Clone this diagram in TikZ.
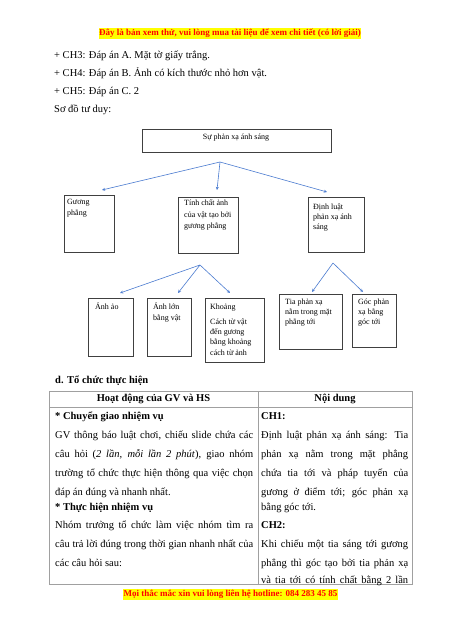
\documentclass[tikz,border=0pt]{standalone}
\usepackage{fontspec}
\setmainfont{Liberation Serif}
\usetikzlibrary{arrows.meta}
\definecolor{arrowblue}{HTML}{4A7BD0}
\definecolor{boxgray}{HTML}{404040}
\definecolor{tablegray}{HTML}{A0A0A0}
\definecolor{hlred}{HTML}{FF0000}
\definecolor{hlyellow}{HTML}{FFFF00}
\newcommand{\jline}[2]{\makebox[#1pt][s]{#2}}
\tikzset{
  body/.style={anchor=base west, inner sep=0pt, font=\fontsize{10.5}{12}\selectfont},
  bodyb/.style={body, font=\fontsize{10.5}{12}\selectfont\bfseries},
  notice/.style={fill=hlyellow, text=hlred, inner xsep=0.6pt, inner ysep=0.8pt, font=\fontsize{9}{10}\selectfont\bfseries},
  dbox/.style={draw=boxgray, line width=0.8pt, anchor=north west, inner sep=0pt},
  dtxt/.style={anchor=base west, inner sep=0pt, font=\fontsize{8}{9}\selectfont},
  conn/.style={draw=arrowblue, line width=0.6pt, -{Stealth[length=3.2pt,width=3pt]}},
  tline/.style={draw=tablegray, line width=0.9pt}
}
\begin{document}
\begin{tikzpicture}[x=1pt,y=-1pt]
\useasboundingbox (0,0) rectangle (450,637);
\fill[white] (0,0) rectangle (450,637);

% header notice
\node[notice] (hdr) at (230,33.5) {Đây là bản xem thử, vui lòng mua tài liệu để xem chi tiết (có lời giải)};

% lines above the diagram
\node[body] (l1) at (54,58.5) {+ CH3: Đáp án A. Mặt tờ giấy trắng.};
\node[body] (l2) at (54,76) {+ CH4: Đáp án B. Ảnh có kích thước nhỏ hơn vật.};
\node[body] (l3) at (54,94.5) {+ CH5: Đáp án C. 2};
\node[body] (l4) at (54,112.5) {Sơ đồ tư duy:};

% ---------- diagram ----------
\node[dbox, minimum width=189pt, minimum height=23pt] (root) at (142,129) {};
\node[dtxt, anchor=base] (roott) at (236,139.5) {Sự phản xạ ánh sáng};

\node[dbox, minimum width=50pt, minimum height=57pt] (gbox) at (64,195) {};
\node[dtxt] (g1) at (67,204.5) {Gương};
\node[dtxt] (g2) at (67,215.5) {phẳng};

\node[dbox, minimum width=60pt, minimum height=56pt] (tbox) at (178,197) {};
\node[dtxt] (t1) at (184,205.5) {Tính chất ảnh};
\node[dtxt] (t2) at (184,217) {của vật tạo bởi};
\node[dtxt] (t3) at (184,228.5) {gương phẳng};

\node[dbox, minimum width=56pt, minimum height=55pt] (dbox) at (308,197) {};
\node[dtxt] (d1) at (313,209.5) {Định luật};
\node[dtxt] (d2) at (313,219.5) {phản xạ ánh};
\node[dtxt] (d3) at (313,229.5) {sáng};

\node[dbox, minimum width=45pt, minimum height=58pt] (abox) at (88,298) {};
\node[dtxt] (a1) at (95,309.5) {Ảnh ảo};

\node[dbox, minimum width=44pt, minimum height=58pt] (bbox) at (147,298) {};
\node[dtxt] (b1) at (153,309.5) {Ảnh lớn};
\node[dtxt] (b2) at (153,320.5) {bằng vật};

\node[dbox, minimum width=59pt, minimum height=64pt] (kbox) at (205,298) {};
\node[dtxt] (k1) at (210,309.5) {Khoảng};
\node[dtxt] (k2) at (210,324.5) {Cách từ vật};
\node[dtxt] (k3) at (210,334.5) {đến gương};
\node[dtxt] (k4) at (210,344.5) {bằng khoảng};
\node[dtxt] (k5) at (210,355.5) {cách từ ảnh};

\node[dbox, minimum width=63pt, minimum height=55pt] (xbox) at (279,294) {};
\node[dtxt] (x1) at (285,304.5) {Tia phản xạ};
\node[dtxt] (x2) at (285,314.5) {nằm trong mặt};
\node[dtxt] (x3) at (285,324.5) {phẳng tới};

\node[dbox, minimum width=44pt, minimum height=53pt] (ybox) at (352,294) {};
\node[dtxt] (y1) at (358,304.5) {Góc phản};
\node[dtxt] (y2) at (358,314.5) {xạ bằng};
\node[dtxt] (y3) at (358,324.5) {góc tới};

% connectors
\coordinate (br0) at (220,162);
\coordinate (tipg) at (102,190);
\coordinate (tipt) at (217,190);
\coordinate (tipd) at (327,192);
\draw[conn] (br0) -- (tipg);
\draw[conn] (br0) -- (tipt);
\draw[conn] (br0) -- (tipd);

\coordinate (br1) at (200,265);
\coordinate (tipa) at (120,293);
\coordinate (tipb) at (178,293);
\coordinate (tipk) at (230,293);
\draw[conn] (br1) -- (tipa);
\draw[conn] (br1) -- (tipb);
\draw[conn] (br1) -- (tipk);

\coordinate (br2) at (333,263);
\coordinate (tipx) at (312,292);
\coordinate (tipy) at (363,292);
\draw[conn] (br2) -- (tipx);
\draw[conn] (br2) -- (tipy);

% ---------- section d ----------
\node[bodyb] (dtitle) at (55,383.5) {d. Tổ chức thực hiện};

% table frame
\draw[tline] (49,391) rectangle (412,584);
\draw[tline] (49,407) -- (412,407);
\draw[tline] (258,391) -- (258,584);

\node[bodyb, anchor=base] (h1) at (153.5,401.5) {Hoạt động của GV và HS};
\node[bodyb, anchor=base] (h2) at (335,401.5) {Nội dung};

% left column
\node[bodyb] (c1) at (55,419.5) {* Chuyển giao nhiệm vụ};
\node[body] (c2) at (55,438.5) {\jline{198}{GV thông báo luật chơi, chiếu slide chứa các}};
\node[body] (c3) at (55,457.5) {\jline{198}{câu hỏi (\textit{2 lần, mỗi lần 2 phút}), giao nhóm}};
\node[body] (c4) at (55,476.5) {\jline{198}{trường tổ chức thực hiện thông qua việc chọn}};
\node[body] (c5) at (55,495.5) {đáp án đúng và nhanh nhất.};
\node[bodyb] (c6) at (55,510.5) {* Thực hiện nhiệm vụ};
\node[body] (c7) at (55,528.5) {\jline{198}{Nhóm trưởng tổ chức làm việc nhóm tìm ra}};
\node[body] (c8) at (55,547.5) {\jline{198}{câu trả lời đúng trong thời gian nhanh nhất của}};
\node[body] (c9) at (55,566.5) {các câu hỏi sau:};

% right column
\node[bodyb] (r1) at (261,419.5) {CH1:};
\node[body] (r2) at (261,438.5) {\jline{147}{Định luật phản xạ ánh sáng: Tia}};
\node[body] (r3) at (261,457.5) {\jline{147}{phản xạ nằm trong mặt phẳng}};
\node[body] (r4) at (261,476.5) {\jline{147}{chứa tia tới và pháp tuyến của}};
\node[body] (r5) at (261,495.5) {\jline{147}{gương ở điểm tới; góc phản xạ}};
\node[body] (r6) at (261,510.5) {bằng góc tới.};
\node[bodyb] (r7) at (261,528.5) {CH2:};
\node[body] (r8) at (261,547.5) {\jline{147}{Khi chiếu một tia sáng tới gương}};
\node[body] (r9) at (261,566.5) {\jline{147}{phẳng thì góc tạo bởi tia phản xạ}};
\node[body] (r10) at (261,583.5) {\jline{147}{và tia tới có tính chất bằng 2 lần}};

% footer notice
\node[notice] (ftr) at (230.5,594.5) {Mọi thắc mắc xin vui lòng liên hệ hotline: 084 283 45 85};
\end{tikzpicture}
\end{document}
